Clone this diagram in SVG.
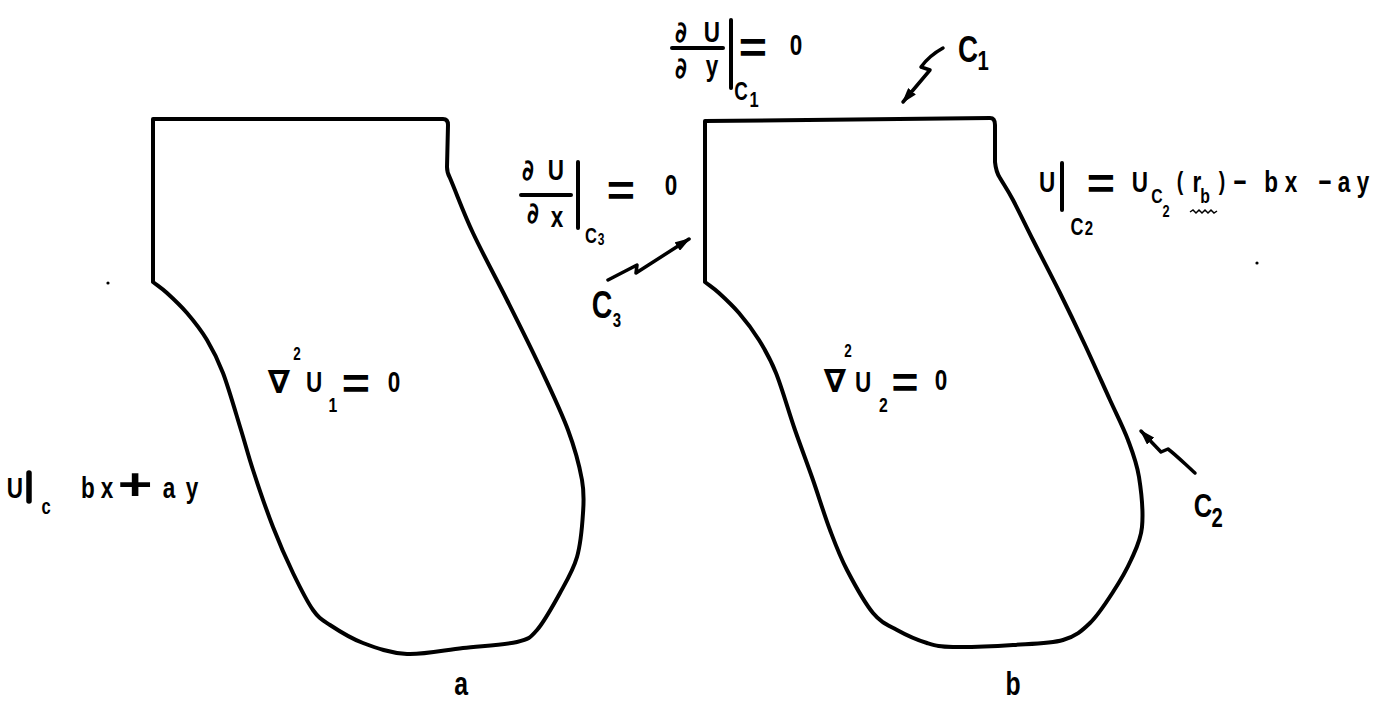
<svg xmlns="http://www.w3.org/2000/svg" width="1389" height="702" viewBox="0 0 1389 702">
<style>
.shape{fill:none;stroke:#000;stroke-width:4;stroke-linejoin:round;stroke-linecap:round}
.bar{stroke:#000;stroke-width:4;stroke-linecap:round}
.ptr{fill:none;stroke:#000;stroke-width:3.5;stroke-linecap:round;stroke-linejoin:round}
.t{font-family:"Liberation Sans",Arial,sans-serif;font-weight:bold;font-size:30px;fill:#000;text-anchor:middle}
.d{font-family:"DejaVu Sans",sans-serif;font-weight:bold;font-size:29px;fill:#000;text-anchor:middle}
.nab{font-family:"DejaVu Sans",sans-serif;font-weight:bold;font-size:32px;fill:#000;text-anchor:middle}
.eq{font-family:"Liberation Sans",Arial,sans-serif;font-weight:bold;font-size:44px;fill:#000;text-anchor:middle}
</style>
<defs>
<marker id="ah" viewBox="0 0 16 10" markerWidth="16" markerHeight="10" refX="14" refY="5" orient="auto" markerUnits="userSpaceOnUse">
<path d="M0,0 L16,5 L0,10 Z" fill="#000"/>
</marker>
</defs>
<rect width="1389" height="702" fill="#fff"/>

<g id="region-a">
<path class="shape" d="M153,282 L153,119 L443,119 Q448,119 448,125 L447,167 Q447,173 450,178 C457.7,196.3 463.5,212.7 473,233 C482.5,253.3 495.8,277.7 507,300 C518.2,322.3 529.8,345.3 540,367 C550.2,388.7 561,411.2 568,430 C575,448.8 579.5,466.2 582,480 C584.5,493.8 583.8,500.2 583,513 C582.2,525.8 580.8,543.7 577,557 C573.2,570.3 566.7,580.8 560,593 C553.3,605.2 544.2,621.8 537,630 C529.8,638.2 529.3,639 517,642 C504.7,645 481.3,646 463,648 C444.7,650 423.7,654.8 407,654 C390.3,653.2 375.8,647.8 363,643 C350.2,638.2 338.3,630.5 330,625 C321.7,619.5 319.2,618.7 313,610 C306.8,601.3 299.7,586.8 293,573 C286.3,559.2 279.7,544.2 273,527 C266.3,509.8 258.3,486.2 253,470 C247.7,453.8 246,446.2 241,430 C236,413.8 228.7,388 223,373 C217.3,358 213,350 207,340 C201,330 193.7,320.8 187,313 C180.3,305.2 172.7,298.2 167,293 C161.3,287.8 157.7,285.7 153,282 Z"/>
</g>

<g id="region-b">
<path class="shape" d="M705,282 L705,121 L990,118 Q995,118 995,125 L995,162 Q996,172 1000,178 C1004.3,185.3 1007.5,189.7 1013,200 C1018.5,210.3 1025.2,224.5 1033,240 C1040.8,255.5 1051.3,275.5 1060,293 C1068.7,310.5 1076.7,327.2 1085,345 C1093.3,362.8 1102.8,384.2 1110,400 C1117.2,415.8 1123.2,427.2 1128,440 C1132.8,452.8 1136.7,462.5 1139,477 C1141.3,491.5 1143.3,513.2 1142,527 C1140.7,540.8 1135.8,549.2 1131,560 C1126.2,570.8 1119.8,581.5 1113,592 C1106.2,602.5 1098.3,615 1090,623 C1081.7,631 1075.8,636.3 1063,640 C1050.2,643.7 1031.3,643.8 1013,645 C994.7,646.2 967.3,647.3 953,647 C938.7,646.7 936.3,645.8 927,643 C917.7,640.2 906,635 897,630 C888,625 881.3,623 873,613 C864.7,603 854.2,583.8 847,570 C839.8,556.2 835.7,545 830,530 C824.3,515 818.8,496.7 813,480 C807.2,463.3 801.2,447.8 795,430 C788.8,412.2 782,388 776,373 C770,358 765.2,350 759,340 C752.8,330 745.7,320.8 739,313 C732.3,305.2 724.7,298.2 719,293 C713.3,287.8 709.7,285.7 705,282 Z"/>
</g>

<g id="connectors">
<path class="ptr" marker-end="url(#ah)" d="M943,48 C934,53 926,60 921,67 L930,70 L903,102"/>
<path class="ptr" marker-end="url(#ah)" d="M608,280 L637,265 L636,273 L689,239"/>
<path class="ptr" marker-end="url(#ah)" d="M1195,473 C1186,465 1176,455 1168,449 L1161,452 L1141,431"/>
</g>

<g id="marks">
<circle cx="108" cy="283" r="1.6" fill="#000"/>
<circle cx="1257" cy="263" r="1.6" fill="#000"/>
<line class="bar" x1="29" y1="473" x2="29" y2="501" style="stroke-width:5.5"/>
<line class="bar" x1="672" y1="48" x2="723" y2="48"/>
<line class="bar" x1="731" y1="20" x2="731" y2="88"/>
<line class="bar" x1="521" y1="195" x2="571" y2="195"/>
<line class="bar" x1="578" y1="162" x2="578" y2="228"/>
<line class="bar" x1="1062" y1="163" x2="1062" y2="210"/>
<path d="M1190,212 l3,-2 3,3 3,-3 3,3 3,-3 3,3 3,-3 3,3 3,-2" fill="none" stroke="#000" stroke-width="1.5"/>
</g>

<g id="labels">
<text class="nab" x="279" y="393">∇</text>
<text class="nab" x="835" y="392">∇</text>
<text class="eq" transform="translate(356,398.5) scale(1.1,1)" x="0" y="0">=</text>
<text class="eq" transform="translate(905,397.5) scale(1.05,1)" x="0" y="0">=</text>
<text class="eq" transform="translate(753,63) scale(1.1,1)" x="0" y="0">=</text>
<text class="eq" transform="translate(621,205.5) scale(1.1,1)" x="0" y="0">=</text>
<text class="eq" transform="translate(1101,198.5) scale(1.1,1)" x="0" y="0">=</text>
<text class="eq" transform="translate(135,500) scale(1.35,1)" x="0" y="0">+</text>
<g transform="scale(0.75,1)">
<text class="t" x="20" y="498">U</text>
<text class="t" x="61.3" y="514" style="font-size:22px">c</text>
<text class="t" x="117.3 142.7" y="498">bx</text>
<text class="t" x="225.3 256" y="498">ay</text>

<text class="t" x="396" y="360" style="font-size:18px">2</text>
<text class="t" x="418.7" y="392">U</text>
<text class="t" x="444" y="412" style="font-size:21px">1</text>
<text class="t" x="525.3" y="392">0</text>

<text class="t" x="1130.7" y="357" style="font-size:18px">2</text>
<text class="t" x="1150.7" y="392">U</text>
<text class="t" x="1178" y="412" style="font-size:21px">2</text>
<text class="t" x="1254.7" y="390">0</text>

<text class="d" x="908" y="42">∂</text>
<text class="t" x="949.3" y="42">U</text>
<text class="d" x="908" y="78">∂</text>
<text class="t" x="949.3" y="76">y</text>
<text class="t" x="988" y="100" style="font-size:25px">C</text>
<text class="t" x="1005.3" y="107" style="font-size:22px">1</text>
<text class="t" x="1061.3" y="55">0</text>

<text class="d" x="704" y="180">∂</text>
<text class="t" x="741.3" y="180">U</text>
<text class="d" x="710.7" y="223">∂</text>
<text class="t" x="742.7" y="227">x</text>
<text class="t" x="788" y="243" style="font-size:22px">C</text>
<text class="t" x="801.3" y="245" style="font-size:16px">3</text>
<text class="t" x="894.7" y="195">0</text>

<text class="t" x="1290.7" y="62" style="font-size:37px">C</text>
<text class="t" x="1310.7" y="70" style="font-size:27px">1</text>
<text class="t" x="802.7" y="318" style="font-size:38px">C</text>
<text class="t" x="822.7" y="327" style="font-size:20px">3</text>
<text class="t" x="1604" y="517" style="font-size:34px">C</text>
<text class="t" x="1622.7" y="527" style="font-size:27px">2</text>

<text class="t" x="1396" y="192">U</text>
<text class="t" x="1436" y="235" style="font-size:24px">C</text>
<text class="t" x="1452" y="235" style="font-size:20px">2</text>
<text class="t" x="1520" y="192">U</text>
<text class="t" x="1542.7" y="203" style="font-size:21px">C</text>
<text class="t" x="1554.7" y="217" style="font-size:17px">2</text>
<text class="t" x="1573.3" y="190" style="font-size:26px">(</text>
<text class="t" x="1596" y="192">r</text>
<text class="t" x="1606.7" y="203" style="font-size:21px">b</text>
<text class="t" x="1629.3" y="190" style="font-size:26px">)</text>
<text class="t" x="1653.3 1694.7 1721.3 1766.7 1792 1817.3" y="192">−bx−ay</text>

<text class="t" x="614.7" y="695" style="font-size:33px">a</text>
<text class="t" x="1350.7" y="695" style="font-size:33px">b</text>
</g>
</g>
</svg>
